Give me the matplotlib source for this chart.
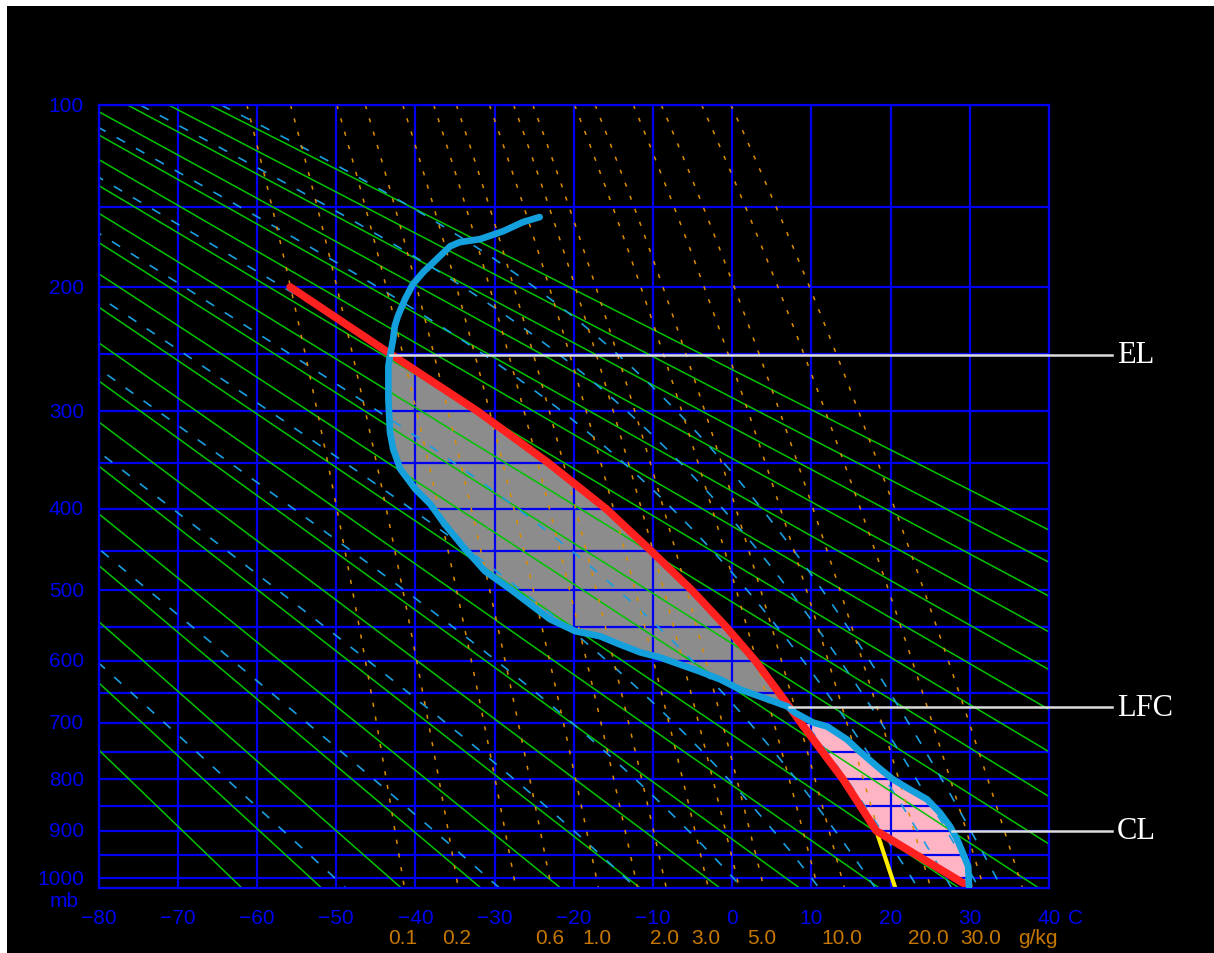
import numpy as np
import matplotlib
matplotlib.use('Agg')
import matplotlib.pyplot as plt
import matplotlib.transforms as mtrans
from matplotlib.patches import Rectangle

plt.rcParams['lines.scale_dashes'] = False

KAPPA = 2.0 / 7.0
P_TOP, P_BOT = 100, 1021
T_MIN, T_MAX = -80, 40

# ---- axes / reference values ----
pressure_ticks = [100, 200, 300, 400, 500, 600, 700, 800, 900, 1000]
pressure_grid = list(range(100, 1001, 50))
temp_ticks = list(range(-80, 41, 10))
mixing_ratio_labels = [0.1, 0.2, 0.6, 1.0, 2.0, 3.0, 5.0, 10.0, 20.0, 30.0]
mixing_ratio_lines = [0.1, 0.2, 0.4, 0.6, 1.0, 1.5, 2.0, 3.0, 4.0, 5.0, 8.0, 10.0, 15.0, 20.0, 30.0, 40.0]
theta_lines = list(range(210, 401, 10))                 # dry adiabats, K
theta_e_lines = [223.15 + 20 * i for i in range(10)]     # saturated adiabats, K

# ---- sounding (environment temperature), ordered by increasing pressure ----
snd_p = [155.7, 158.6, 164.0, 168.8, 170.7, 173.2, 181.4, 189.9, 198.0, 208.5,
         220.8, 228.4, 238.4, 251.9, 260.2, 288.7, 319.5, 336.2, 356.6, 378.1,
         394.7, 417.6, 447.6, 475.2, 498.7, 519.0, 539.7, 556.7, 563.9, 575.8,
         587.7, 595.3, 605.9, 616.7, 629.1, 644.9, 656.2, 672.5, 682.5, 699.2,
         706.0, 728.3, 749.3, 776.3, 800.0, 818.8, 837.8, 863.3, 891.0, 917.4,
         944.4, 974.2, 1018.0]
snd_t = [-24.3, -26.4, -28.9, -31.8, -34.4, -35.6, -37.3, -39.0, -40.3, -41.3,
         -42.2, -42.6, -42.8, -43.2, -43.4, -43.4, -43.2, -42.8, -41.9, -40.0,
         -38.1, -36.3, -33.7, -31.2, -28.0, -25.5, -23.0, -19.8, -16.7, -14.2,
         -11.6, -9.1, -6.6, -4.1, -1.5, 1.0, 3.5, 7.0, 7.9, 10.2,
         12.0, 14.5, 16.1, 18.3, 20.3, 22.4, 24.6, 26.2, 27.5, 28.4,
         29.1, 29.8, 29.9]

# ---- lifted parcel path ----
parcel_p = [200.0, 250.0, 300.0, 350.0, 400.0, 450.0, 500.0, 550.0, 600.0, 650.0,
            700.0, 750.0, 800.0, 850.0, 900.0, 1018.0]
parcel_t = [-55.8, -43.2, -32.1, -23.25, -15.9, -10.2, -5.1, -0.8, 2.9, 5.9,
            8.7, 11.4, 14.0, 16.15, 18.2, 29.9]

# ---- surface mixing-ratio line up to condensation level ----
yellow_p = [900.0, 1021.0]
yellow_t = [18.2, 20.6]

level_names = ['EL', 'LFC', 'CL']
level_p = [251.0, 674.0, 900.0]

# ---- colours ----
BLUE = '#0000f0'
GREEN = '#00c400'
CYAN_D = '#1a9ee0'
ORANGE = '#dc8c00'
ORANGE_TXT = '#c87800'
RED = '#ff2020'
SND = '#14a0dc'


def fwd(p):
    p = np.asarray(p, dtype=float)
    return np.sign(p) * np.abs(p) ** KAPPA


def inv(y):
    y = np.asarray(y, dtype=float)
    return np.sign(y) * np.abs(y) ** (1.0 / KAPPA)


def sat_theta_e(Tk, p):
    es = 6.112 * np.exp(17.67 * (Tk - 273.15) / (Tk - 29.65))
    rs = np.where(es < 0.9 * p, 0.622 * es / np.maximum(p - es, 1e-6), 10.0)
    return Tk * (1000.0 / p) ** KAPPA * np.exp(2.501e6 * rs / (1005.7 * Tk))


def T_of_theta_e(the, p):
    lo = np.full_like(p, 120.0)
    hi = np.full_like(p, 345.0)
    for _ in range(60):
        mid = 0.5 * (lo + hi)
        f = sat_theta_e(mid, p) - the
        lo = np.where(f < 0, mid, lo)
        hi = np.where(f >= 0, mid, hi)
    return 0.5 * (lo + hi) - 273.15


def dewpoint_of_w(w, p):
    e = (w / 1000.0) * p / (0.622 + w / 1000.0)
    L = np.log(e / 6.112)
    return 243.5 * L / (17.67 - L)


W, H = 1214, 954
fig = plt.figure(figsize=(W / 100, H / 100), dpi=100, facecolor='white')
fig.patches.append(Rectangle((7 / W, 0), 1, 1 - 7 / H, transform=fig.transFigure,
                             facecolor='black', edgecolor='none', zorder=-10))

L_, R_, T_, B_ = 98.5, 1049, 106, 889
ax = fig.add_axes([L_ / W, 1 - B_ / H, (R_ - L_) / W, (B_ - T_) / H])
ax.set_facecolor('black')
ax.set_yscale('function', functions=(fwd, inv))
ax.set_xlim(T_MIN, T_MAX)
ax.set_ylim(P_BOT, P_TOP)
ax.set_xticks([])
ax.set_yticks([])
ax.minorticks_off()
for s in ax.spines.values():
    s.set_color(BLUE)
    s.set_linewidth(1.6)
    s.set_zorder(5)

pg = np.linspace(P_TOP, P_BOT, 600)

# fills between parcel and environment
Yp = fwd(pg)
ts = np.interp(Yp, fwd(snd_p), snd_t)
tp = np.interp(Yp, fwd(parcel_p), parcel_t)
el, lfc = level_p[0], level_p[1]
m_g = (pg >= el - 1) & (pg <= lfc + 1)
ax.fill_betweenx(pg, ts, tp, where=m_g, color='#8c8c8c', lw=0, zorder=1)
m_p = (pg >= lfc - 1) & (pg <= 1018)
ax.fill_betweenx(pg, ts, tp, where=m_p, color='#ffb4c6', lw=0, zorder=1)

# grid
for t in temp_ticks:
    ax.axvline(t, color=BLUE, lw=1.6, zorder=2)
for p in pressure_grid:
    ax.axhline(p, color=BLUE, lw=1.6, zorder=2)

# dry adiabats
for th in theta_lines:
    ax.plot(th * (pg / 1000.0) ** KAPPA - 273.15, pg, color=GREEN, lw=1.1, zorder=3)

# saturated adiabats
for the in theta_e_lines:
    ax.plot(T_of_theta_e(the, pg), pg, color=CYAN_D, lw=1.2, zorder=3,
            linestyle=(0, (7, 9)))

# mixing ratio lines
for w in mixing_ratio_lines:
    ax.plot(dewpoint_of_w(w, pg), pg, color=ORANGE, lw=1.1, zorder=3,
            linestyle=(0, (3, 7)))

ax.plot(yellow_t, yellow_p, color='#ffee00', lw=3, zorder=4, solid_capstyle='butt')
ax.plot(parcel_t, parcel_p, color=RED, lw=5.6, zorder=5, solid_capstyle='round',
        solid_joinstyle='round')
ax.plot(snd_t, snd_p, color=SND, lw=4.8, zorder=6, solid_capstyle='round',
        solid_joinstyle='round')

# level annotations
x_end = T_MIN + (1112 - L_) / (R_ - L_) * (T_MAX - T_MIN)
x_txt = T_MIN + (1117 - L_) / (R_ - L_) * (T_MAX - T_MIN)
for name, lp in zip(level_names, level_p):
    x0 = float(np.interp(fwd(lp), fwd(snd_p), snd_t))
    ax.plot([x0, x_end], [lp, lp], color='#dcdcdc', lw=1.8, zorder=7, clip_on=False)
    ax.text(x_txt, lp, name, color='white', fontsize=22, va='center', ha='left',
            family=['Liberation Serif', 'DejaVu Serif'], clip_on=False)

# tick labels
SANS = ['Liberation Sans Narrow', 'Liberation Sans', 'DejaVu Sans']
trY = mtrans.blended_transform_factory(fig.transFigure, ax.transData)
for p in pressure_ticks:
    ax.text(84 / W, p, str(p), transform=trY, color=BLUE, fontsize=15,
            ha='right', va='center', family=SANS)
fig.text(64 / W, 1 - 902 / H, 'mb', color=BLUE, fontsize=15, ha='center',
         va='center', family=SANS)

trX = mtrans.blended_transform_factory(ax.transData, fig.transFigure)
for t in temp_ticks:
    ax.text(t, 1 - 919 / H, ('\u2212' + str(-t)) if t < 0 else str(t), transform=trX,
            color=BLUE, fontsize=15, ha='center', va='center', family=SANS)
fig.text(1068 / W, 1 - 919 / H, 'C', color=BLUE, fontsize=15, ha='left',
         va='center', family=SANS)

for w in mixing_ratio_labels:
    tx = float(dewpoint_of_w(w, 1000.0))
    ax.text(tx, 1 - 939 / H, f'{w:.1f}', transform=trX, color=ORANGE_TXT,
            fontsize=15, ha='center', va='center', family=SANS)
fig.text(1018 / W, 1 - 939 / H, 'g/kg', color=ORANGE_TXT, fontsize=15,
         ha='left', va='center', family=SANS)

fig.savefig('out.png', dpi=100, facecolor=fig.get_facecolor())
